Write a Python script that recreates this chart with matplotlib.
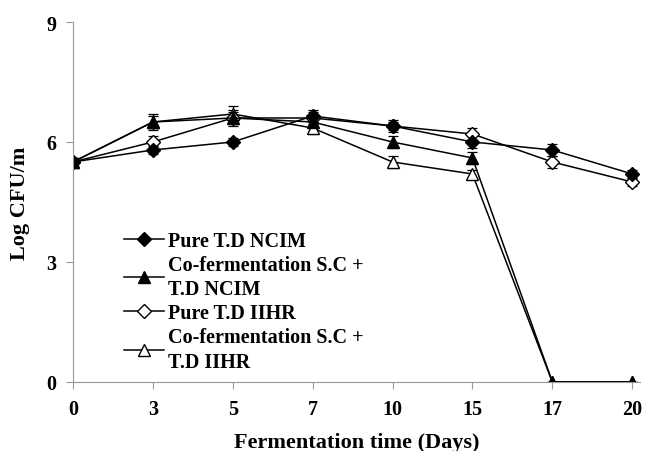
import matplotlib

matplotlib.use("Agg")
import matplotlib.pyplot as plt
import numpy as np

plt.rcParams["font.family"] = ["Liberation Serif", "DejaVu Serif"]
plt.rcParams["font.weight"] = "bold"

days = ["0", "3", "5", "7", "10", "15", "17", "20"]

pure_ncim = [5.5, 5.8, 6.0, 6.65, 6.4, 6.0, 5.8, 5.2]
pure_ncim_err = [0.1, 0.1, 0.1, 0.15, 0.15, 0.15, 0.15, 0.1]

cof_ncim = [5.5, 6.5, 6.6, 6.5, 6.0, 5.6, 0.0, 0.0]
cof_ncim_err = [0.1, 0.2, 0.15, 0.15, 0.15, 0.15, 0.0, 0.0]

pure_iihr = [5.5, 6.0, 6.6, 6.6, 6.4, 6.2, 5.5, 5.0]
pure_iihr_err = [0.1, 0.15, 0.2, 0.15, 0.1, 0.15, 0.15, 0.1]

cof_iihr = [5.5, 6.5, 6.7, 6.35, 5.5, 5.2, 0.0, 0.0]
cof_iihr_err = [0.1, 0.15, 0.2, 0.15, 0.15, 0.1, 0.0, 0.0]

labels = [
    "Pure T.D NCIM",
    "Co-fermentation S.C +\nT.D NCIM",
    "Pure T.D IIHR",
    "Co-fermentation S.C +\nT.D IIHR",
]

fig = plt.figure(figsize=(6.46, 4.52), dpi=100)
ax = fig.add_axes([0.113, 0.153, 0.878, 0.796])

x = np.arange(len(days))
series = [
    (cof_iihr, cof_iihr_err, "^", "white", 9),
    (pure_iihr, pure_iihr_err, "D", "white", 7),
    (cof_ncim, cof_ncim_err, "^", "black", 9),
    (pure_ncim, pure_ncim_err, "D", "black", 7),
]
handles = []
for values, err, marker, face, size in series:
    h = ax.errorbar(
        x, values, yerr=err, color="black", marker=marker, markersize=size,
        markerfacecolor=face, markeredgecolor="black", linewidth=1.1,
        elinewidth=0.9, capsize=3.5, capthick=0.9,
    )
    handles.append(h[0])
handles = handles[::-1]

ax.set_xlim(0, 7.1)
ax.set_ylim(0, 9)
ax.set_xticks(x, labels=days)
ax.set_yticks([0, 3, 6, 9])
for side in ["top", "right"]:
    ax.spines[side].set_visible(False)
for side in ["left", "bottom"]:
    ax.spines[side].set_color("#999999")
ax.tick_params(axis="both", colors="#999999", labelcolor="black", labelsize=14.5, length=5, pad=7)

ax.set_ylabel("Log CFU/m", fontsize=16, fontweight="bold", labelpad=12)
ax.set_xlabel("Fermentation time (Days)", fontsize=16, fontweight="bold", labelpad=10)

leg = ax.legend(
    handles, labels, loc="upper left", bbox_to_anchor=(0.09, 0.42),
    frameon=False, fontsize=14.5, handlelength=2.0, handletextpad=0.2,
    labelspacing=0.2, borderaxespad=0, borderpad=0,
)
for text in leg.get_texts():
    text.set_linespacing(1.3)

fig.savefig("out.png", dpi=100)
